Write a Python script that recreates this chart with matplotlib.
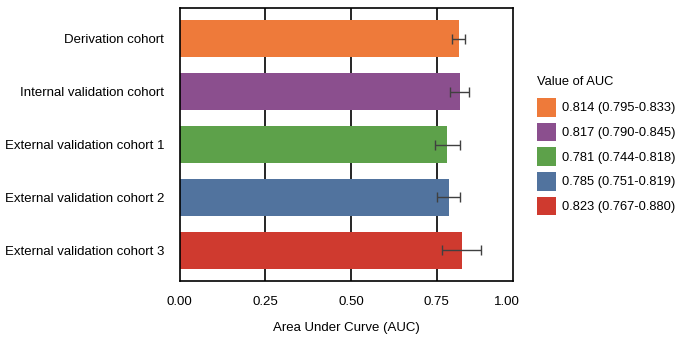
import matplotlib
matplotlib.use("Agg")
import matplotlib.pyplot as plt
from matplotlib.patches import Patch

plt.rcParams['font.family'] = ['Liberation Sans', 'DejaVu Sans']

categories = ["Derivation cohort", "Internal validation cohort", "External validation cohort 1",
              "External validation cohort 2", "External validation cohort 3"]
auc = [0.814, 0.817, 0.781, 0.785, 0.823]
lower = [0.795, 0.790, 0.744, 0.751, 0.767]
upper = [0.833, 0.845, 0.818, 0.819, 0.880]
colors = ["#EE7A3A", "#8B4F8E", "#5DA14A", "#51739E", "#CF3A2F"]
tick_values = [0.0, 0.25, 0.5, 0.75]
tick_labels = ["0.00", "0.25", "0.50", "0.75", "1.00"]
legend_title = "Value of AUC"
xlabel = "Area Under Curve (AUC)"

fs = 9.5
fig = plt.figure(figsize=(6.84, 3.40), dpi=100)
ax = fig.add_axes([0.2626, 0.1735, 0.487, 0.803])

ypos = list(range(len(categories)))
xerr = [[a - l for a, l in zip(auc, lower)], [u - a for a, u in zip(auc, upper)]]
for x in tick_values[1:]:
    ax.axvline(x, color="black", lw=1.2, zorder=0)
ax.barh(ypos, auc, height=0.69, color=colors, zorder=2)
ax.errorbar(auc, ypos, xerr=xerr, fmt="none", ecolor="#404040", elinewidth=1.0,
            capsize=3.6, capthick=1.0, zorder=3)

ax.set_xlim(0, 0.972)
ax.set_ylim(4.58, -0.58)
ax.set_yticks(ypos)
ax.set_yticklabels(categories, fontsize=fs)
ax.set_xticks(tick_values + [0.955])
ax.set_xticklabels(tick_labels, fontsize=fs)
ax.tick_params(axis="y", length=0, pad=11)
ax.tick_params(axis="x", length=0, pad=11)
for s in ax.spines.values():
    s.set_linewidth(1.2)
    s.set_color("black")
ax.set_xlabel(xlabel, fontsize=fs, labelpad=10)

handles = [Patch(facecolor=c, edgecolor="none") for c in colors]
labels = [f"{a:.3f} ({l:.3f}-{u:.3f})" for a, l, u in zip(auc, lower, upper)]
leg = fig.legend(handles, labels, title=legend_title, loc="upper left",
                 bbox_to_anchor=(0.778, 0.791), frameon=False, fontsize=9.3,
                 title_fontsize=9.3, handlelength=1.48, handleheight=1.84,
                 handletextpad=0.45, labelspacing=0.47, borderaxespad=0)
leg._legend_box.align = "left"
leg._legend_box.sep = 7

fig.savefig("out.png", dpi=100)
